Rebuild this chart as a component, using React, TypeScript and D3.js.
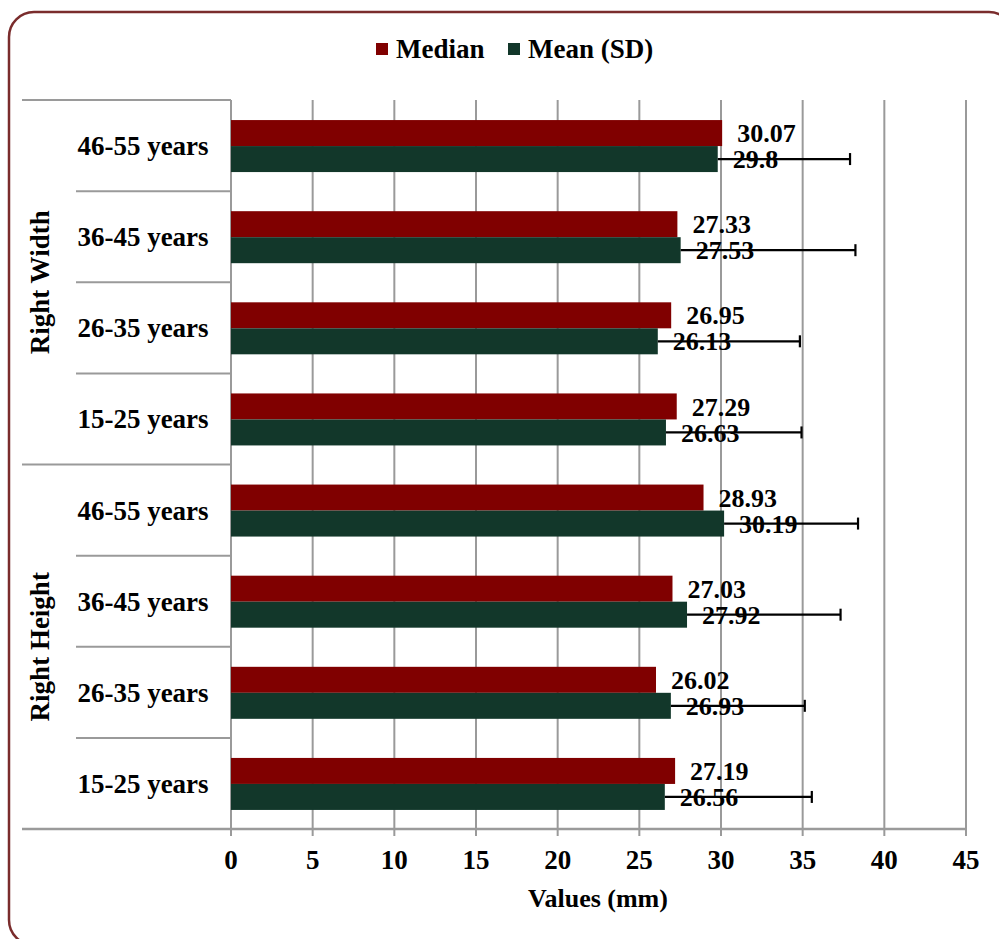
import React from "react";
import * as d3 from "d3";

const groups = ["Right Width", "Right Height"];
const ageGroups = ["46-55 years", "36-45 years", "26-35 years", "15-25 years"];
// order: Right Width (46-55..15-25), Right Height (46-55..15-25)
const medianValues = [30.07, 27.33, 26.95, 27.29, 28.93, 27.03, 26.02, 27.19];
const meanValues = [29.8, 27.53, 26.13, 26.63, 30.19, 27.92, 26.93, 26.56];
const sdValues = [8.1, 10.7, 8.7, 8.3, 8.2, 9.4, 8.2, 9.0];
const xTicks = [0, 5, 10, 15, 20, 25, 30, 35, 40, 45];
const seriesNames = ["Median", "Mean (SD)"];
const seriesColors = ["#800000", "#12372a"];

const W = 999;
const H = 939;
const FONT = "'Liberation Serif', 'Times New Roman', serif";

export default function App() {
  const left = 231;
  const right = 966;
  const top = 100;
  const bottom = 829;
  const x = d3.scaleLinear().domain([0, 45]).range([left, right]);
  const rows = d3.range(medianValues.length);
  const y = d3.scaleBand<number>().domain(rows).range([top, bottom]);
  const bw = y.bandwidth();
  const barH = 26;
  const grid = "#9a9a9a";
  const fs = 26;
  const fsCat = 27;

  const groupY = d3.scaleBand<number>().domain([0, 1]).range([top, bottom]);

  return (
    <svg
      width={W}
      height={H}
      style={{ position: "absolute", left: 0, top: 0, background: "#fff" }}
      fontFamily={FONT}
      fontWeight="bold"
    >
      <rect x={9} y={12} width={1005} height={933} rx={25} ry={25} fill="none" stroke="#7a2c2c" strokeWidth={2.5} />

      {/* legend */}
      <g>
        <rect x={376} y={43} width={12} height={12} fill={seriesColors[0]} />
        <text x={396} y={58} fontSize={fs + 1}>{seriesNames[0]}</text>
        <rect x={508} y={43} width={12} height={12} fill={seriesColors[1]} />
        <text x={528} y={58} fontSize={fs + 1}>{seriesNames[1]}</text>
      </g>

      {/* gridlines */}
      {xTicks.map((t) => (
        <line key={"g" + t} x1={x(t)} x2={x(t)} y1={top} y2={bottom + 7} stroke={grid} strokeWidth={2} />
      ))}

      {/* category separator lines */}
      {d3.range(medianValues.length + 1).map((i) => {
        const yy = top + i * bw;
        const outer = i % 4 === 0;
        return <line key={"s" + i} x1={outer ? 22 : 76} x2={left} y1={yy} y2={yy} stroke={grid} strokeWidth={2} />;
      })}
      <line x1={22} x2={right} y1={bottom} y2={bottom} stroke={grid} strokeWidth={2.5} />

      {/* bars */}
      {rows.map((i) => {
        const cy = (y(i) as number) + bw / 2 + 0.5;
        return (
          <g key={"b" + i}>
            <rect x={x(0)} y={cy - barH} width={x(medianValues[i]) - x(0)} height={barH} fill={seriesColors[0]} />
            <rect x={x(0)} y={cy} width={x(meanValues[i]) - x(0)} height={barH} fill={seriesColors[1]} />
          </g>
        );
      })}

      {/* error bars */}
      {rows.map((i) => {
        const cy = (y(i) as number) + bw / 2 + 0.5 + barH / 2;
        const x1 = x(meanValues[i]);
        const x2 = x(meanValues[i] + sdValues[i]);
        return (
          <g key={"e" + i} stroke="#000" strokeWidth={2.2}>
            <line x1={x1} x2={x2} y1={cy} y2={cy} />
            <line x1={x2} x2={x2} y1={cy - 6} y2={cy + 6} />
          </g>
        );
      })}

      {/* value labels */}
      {rows.map((i) => {
        const cy = (y(i) as number) + bw / 2 + 0.5;
        return (
          <g key={"l" + i} fontSize={fs}>
            <text x={x(medianValues[i]) + 15} y={cy - barH / 2} dy="0.35em">{medianValues[i]}</text>
            <text x={x(meanValues[i]) + 15} y={cy + barH / 2} dy="0.35em">{meanValues[i]}</text>
          </g>
        );
      })}

      {/* category labels */}
      {rows.map((i) => (
        <text key={"c" + i} x={143} y={(y(i) as number) + bw / 2} dy="0.35em" textAnchor="middle" fontSize={fsCat}>
          {ageGroups[i % 4]}
        </text>
      ))}
      {groups.map((g, gi) => {
        const cy = (groupY(gi) as number) + groupY.bandwidth() / 2;
        return (
          <text key={g} transform={`translate(40,${cy}) rotate(-90)`} dy="0.35em" textAnchor="middle" fontSize={fsCat}>
            {g}
          </text>
        );
      })}

      {/* x tick labels */}
      {xTicks.map((t) => (
        <text key={"t" + t} x={x(t)} y={860} dy="0.35em" textAnchor="middle" fontSize={fs + 1}>
          {t}
        </text>
      ))}
      <text x={598} y={898} dy="0.35em" textAnchor="middle" fontSize={fs}>
        Values (mm)
      </text>
    </svg>
  );
}
